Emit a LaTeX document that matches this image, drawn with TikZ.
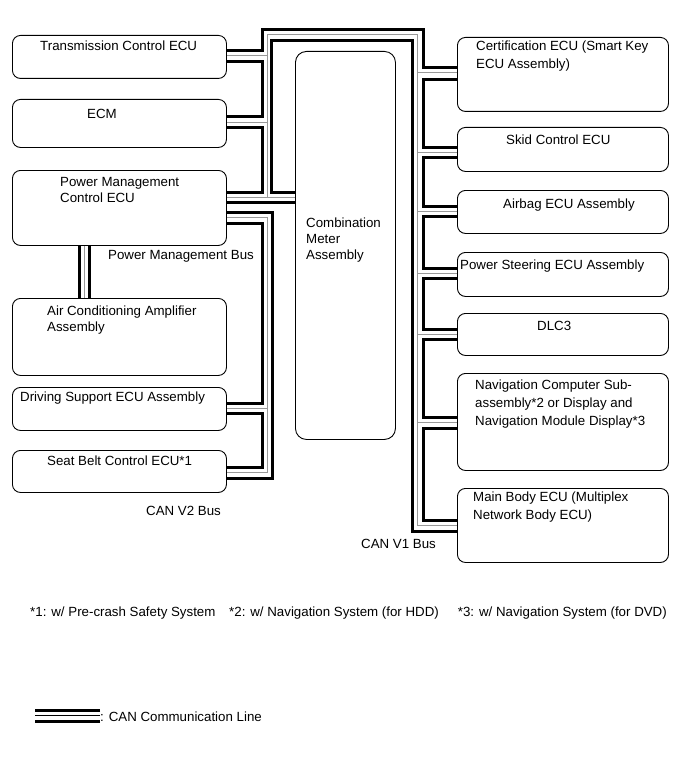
\documentclass[tikz,border=0pt]{standalone}
\usepackage{fontspec}
\setmainfont{Liberation Sans}
\begin{document}
\begin{tikzpicture}[x=1pt,y=-1pt,
  box/.style={draw, rounded corners=8pt, line width=0.9pt, anchor=north west, inner sep=0pt},
  txt/.style={anchor=base west, inner sep=0pt, align=left, font=\fontsize{13.3}{16}\selectfont},
  txtw/.style={txt, font=\fontsize{13.3}{18}\selectfont},
  bk/.style={line width=3pt, line join=miter, line cap=butt},
  gr/.style={line width=1pt, black!40},
]
\useasboundingbox[fill=white] (0,0) rectangle (691,757);

% left boxes
\node[box, minimum width=214pt, minimum height=43pt] (tcu) at (12,35) {};
\node[box, minimum width=214pt, minimum height=48pt] (ecm) at (12,99) {};
\node[box, minimum width=214pt, minimum height=75pt] (pm) at (12,170) {};
\node[box, minimum width=214pt, minimum height=77pt] (ac) at (12,298) {};
\node[box, minimum width=214pt, minimum height=43pt] (ds) at (12,387) {};
\node[box, minimum width=214pt, minimum height=42pt] (sb) at (12,450) {};
% meter
\node[box, rounded corners=11pt, minimum width=100pt, minimum height=388pt] (meter) at (295,51) {};
% right boxes
\node[box, minimum width=211pt, minimum height=74pt] (cert) at (457,37) {};
\node[box, minimum width=211pt, minimum height=44pt] (skid) at (457,127) {};
\node[box, minimum width=211pt, minimum height=43pt] (air) at (457,190) {};
\node[box, minimum width=211pt, minimum height=44pt] (ps) at (457,252) {};
\node[box, minimum width=211pt, minimum height=42pt] (dlc) at (457,313) {};
\node[box, minimum width=211pt, minimum height=97pt] (nav) at (457,373) {};
\node[box, minimum width=211pt, minimum height=74pt] (mb) at (457,488) {};

% texts (base anchor = baseline of last line)
\node[txt] (tcut) at (40,51) {Transmission Control ECU};
\node[txt] (ecmt) at (87,118) {ECM};
\node[txt] (pmt) at (60,202) {Power Management\\Control ECU};
\node[txt] (pmbt) at (108,259) {Power Management Bus};
\node[txt] (act) at (47,331) {Air Conditioning Amplifier\\Assembly};
\node[txt] (dst) at (20,401) {Driving Support ECU Assembly};
\node[txt] (sbt) at (47,465) {Seat Belt Control ECU*1};
\node[txt] (v2t) at (146,515) {CAN V2 Bus};
\node[txt] (metert) at (306,259.5) {Combination\\Meter\\Assembly};
\node[txtw] (certt) at (476,69) {Certification ECU (Smart Key\\ECU Assembly)};
\node[txt] (skidt) at (506,144) {Skid Control ECU};
\node[txt] (airt) at (503,208) {Airbag ECU Assembly};
\node[txt] (pst) at (460,269) {Power Steering ECU Assembly};
\node[txt] (dlct) at (537,330) {DLC3};
\node[txtw] (navt) at (475,425) {Navigation Computer Sub-\\assembly*2 or Display and\\Navigation Module Display*3};
\node[txtw] (mbt) at (473,519) {Main Body ECU (Multiplex\\Network Body ECU)};
\node[txt] (v1t) at (361,548) {CAN V1 Bus};
\node[txt] (fn1) at (30,616) {*1: w/ Pre-crash Safety System};
\node[txt] (fn2) at (229,616) {*2: w/ Navigation System (for HDD)};
\node[txt, anchor=base east] (fn3) at (667,616) {*3: w/ Navigation System (for DVD)};
\node[txt] (leg) at (100,721) {: CAN Communication Line};

% ---------- CAN V1 bus ----------
% gray middle wire
\coordinate (gl) at (267,197);
\draw[gr] (gl) -- (267,35) -| (417,525) -- (mb.west|-0,525);
\draw[gr] (tcu.east|-0,56) -- (gl|-0,56);
\draw[gr] (ecm.east|-0,123) -- (gl|-0,123);
\draw[gr] (pm.east|-0,197) -- (meter.west|-0,197);
\coordinate (gr) at (417,0);
\draw[gr] (cert.west|-0,73) -- (gr|-0,73);
\draw[gr] (skid.west|-0,152) -- (gr|-0,152);
\draw[gr] (air.west|-0,211) -- (gr|-0,211);
\draw[gr] (ps.west|-0,273) -- (gr|-0,273);
\draw[gr] (dlc.west|-0,334) -- (gr|-0,334);
\draw[gr] (nav.west|-0,422) -- (gr|-0,422);
% outer wire
\draw[bk] (tcu.east|-0,51) -| (262,30) -| (423,68) -- (cert.west|-0,68);
% inner wire
\draw[bk] (meter.west|-0,192) -| (271.5,41) -| (412,531) -- (mb.west|-0,531);
% left chain
\draw[bk] (tcu.east|-0,62) -| (262,117) -- (ecm.east|-0,117);
\draw[bk] (ecm.east|-0,128) -| (262,192) -- (pm.east|-0,192);
\draw[bk] (pm.east|-0,202) -- (meter.west|-0,202);
% right chain
\draw[bk] (cert.west|-0,80) -| (423,147) -- (skid.west|-0,147);
\draw[bk] (skid.west|-0,157) -| (423,206) -- (air.west|-0,206);
\draw[bk] (air.west|-0,216) -| (423,268) -- (ps.west|-0,268);
\draw[bk] (ps.west|-0,278) -| (423,329) -- (dlc.west|-0,329);
\draw[bk] (dlc.west|-0,339) -| (423,417) -- (nav.west|-0,417);
\draw[bk] (nav.west|-0,428) -| (423,520) -- (mb.west|-0,520);

% ---------- CAN V2 bus ----------
\draw[gr] (pm.east|-0,217) -| (267,472) -- (sb.east|-0,472);
\draw[gr] (ds.east|-0,408) -- (267,408);
\draw[bk] (pm.east|-0,212) -| (272,478) -- (sb.east|-0,478);
\draw[bk] (pm.east|-0,223) -| (262,403) -- (ds.east|-0,403);
\draw[bk] (ds.east|-0,413) -| (262,467) -- (sb.east|-0,467);

% ---------- Power Management bus ----------
\draw[bk] (79.5,0 |- pm.south) -- (79.5,0 |- ac.north);
\draw[gr] (84.5,0 |- pm.south) -- (84.5,0 |- ac.north);
\draw[bk] (89,0 |- pm.south) -- (89,0 |- ac.north);

% ---------- legend ----------
\draw[bk] (leg.west|-0,710.5) -- (35,710.5);
\draw[line width=1.3pt] (leg.west|-0,715.5) -- (35,715.5);
\draw[bk] (leg.west|-0,721.5) -- (35,721.5);
\end{tikzpicture}
\end{document}
